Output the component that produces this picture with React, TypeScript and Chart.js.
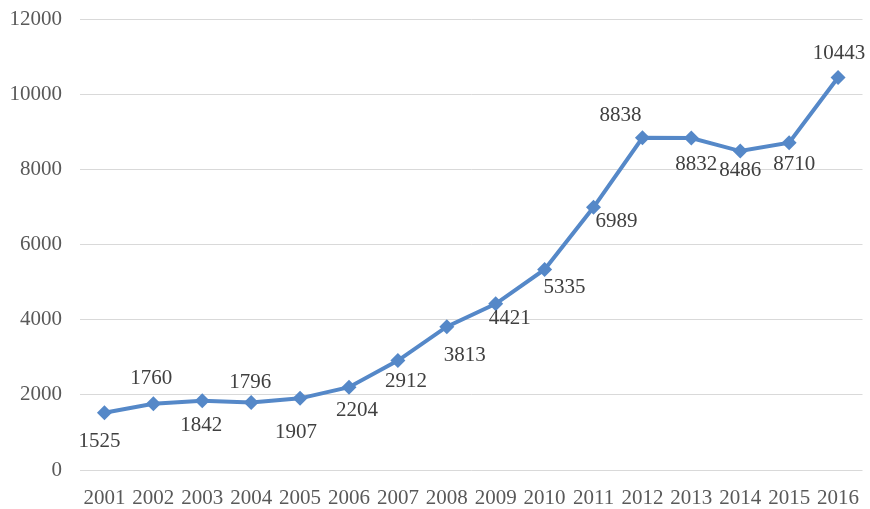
import React, { useEffect, useRef } from "react";
import { Chart, registerables } from "chart.js";

Chart.register(...registerables);

const years = ["2001","2002","2003","2004","2005","2006","2007","2008","2009","2010","2011","2012","2013","2014","2015","2016"];
const values = [1525, 1760, 1842, 1796, 1907, 2204, 2912, 3813, 4421, 5335, 6989, 8838, 8832, 8486, 8710, 10443];
const labelOffsets: [number, number][] = [
  [-5, 29], [-2, -25], [-1, 25], [-1, -20], [-4, 34], [8, 23], [8, 21], [18, 29],
  [14, 15], [20, 18], [23, 14], [-22, -22], [5, 26], [0, 19], [5, 22], [1, -24],
];

const FONT = "'Liberation Serif', serif";
const FSIZE = 21;
const LINE_COLOR = "#5588c8";

const dataLabelPlugin = {
  id: "dataLabels",
  afterDatasetsDraw(chart: any) {
    const ctx = chart.ctx;
    const meta = chart.getDatasetMeta(0);
    ctx.save();
    ctx.font = `${FSIZE}px ${FONT}`;
    ctx.fillStyle = "#404040";
    ctx.textAlign = "center";
    ctx.textBaseline = "middle";
    meta.data.forEach((pt: any, i: number) => {
      const [dx, dy] = labelOffsets[i];
      ctx.fillText(String(values[i]), pt.x + dx, pt.y + dy);
    });
    ctx.restore();
  },
};

export default function App() {
  const ref = useRef<HTMLCanvasElement>(null);
  useEffect(() => {
    document.body.style.margin = "0";
    const chart = new Chart(ref.current!, {
      type: "line",
      data: {
        labels: years,
        datasets: [
          {
            data: values,
            borderColor: LINE_COLOR,
            backgroundColor: LINE_COLOR,
            borderWidth: 4,
            pointStyle: "rectRot",
            pointRadius: 7.5,
            pointBorderWidth: 0,
            pointBackgroundColor: LINE_COLOR,
            tension: 0,
          },
        ],
      },
      options: {
        animation: false,
        responsive: false,
        layout: { padding: { top: 19, right: 0, left: 0, bottom: 0 } },
        plugins: { legend: { display: false }, tooltip: { enabled: false } },
        scales: {
          x: {
            offset: true,
            grid: { display: false, drawTicks: false },
            border: { display: false },
            ticks: { color: "#595959", font: { family: FONT, size: FSIZE }, padding: 16, maxRotation: 0, autoSkip: false },
            afterFit: (s: any) => { s.height = 39; s.paddingLeft = 0; s.paddingRight = 0; },
          },
          y: {
            min: 0,
            max: 12000,
            grid: { color: "#d9d9d9", lineWidth: 1, drawTicks: false },
            border: { display: false },
            ticks: {
              stepSize: 2000,
              color: "#595959",
              font: { family: FONT, size: FSIZE },
              padding: 18,
              callback: (v: any) => String(v),
            },
            afterFit: (s: any) => { s.width = 80; s.paddingTop = 0; s.paddingBottom = 0; },
          },
        },
      },
      plugins: [dataLabelPlugin],
    });
    return () => chart.destroy();
  }, []);
  return (
    <div style={{ position: "absolute", left: 0, top: 0, width: 870, height: 509, background: "#fff" }}>
      <canvas ref={ref} width={870} height={509} />
    </div>
  );
}
